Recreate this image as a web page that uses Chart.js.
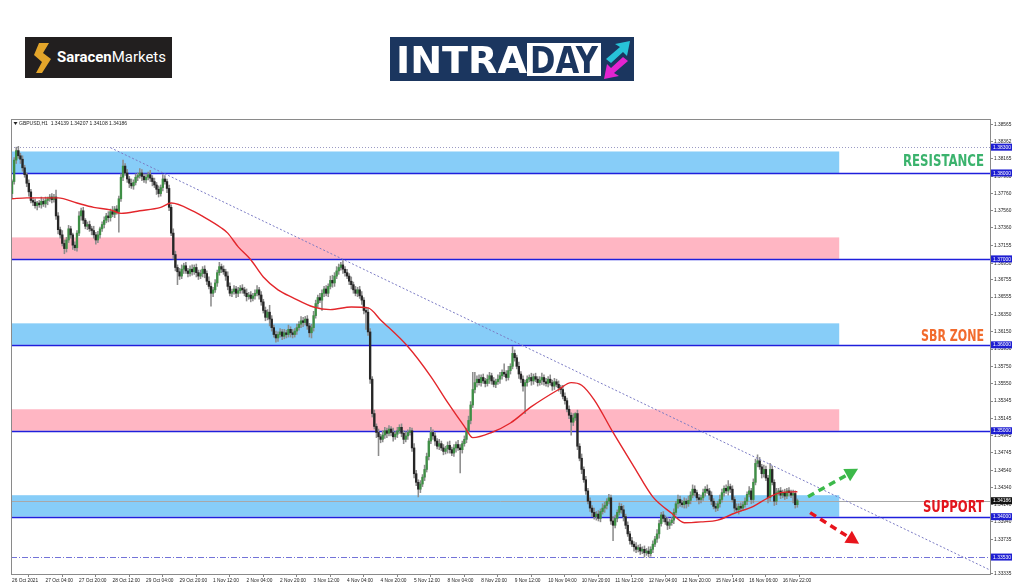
<!DOCTYPE html>
<html><head><meta charset="utf-8">
<script src="https://cdn.jsdelivr.net/npm/chart.js@4/dist/chart.umd.min.js"></script>
<style>
html,body{margin:0;padding:0;background:#fff;width:1024px;height:587px;overflow:hidden;}
#c{position:absolute;left:0;top:0;}
.logo1{position:absolute;left:25px;top:37px;width:147px;height:41px;background:#221f1f;}
.logo1 svg{position:absolute;left:9px;top:6px;}
.logo1 .t{position:absolute;left:32px;top:11px;font-family:Roboto,'Liberation Sans',sans-serif;font-size:14px;line-height:18px;color:#fff;white-space:nowrap;transform-origin:0 50%}
.logo1 .t b{font-weight:700}
.logo1 .t span{font-weight:400}
.logo2{position:absolute;left:390px;top:37px;width:244px;height:44px;background:#1b365f;}
.logo2 .intra{position:absolute;left:6px;top:5px;font-family:'DejaVu Sans Condensed','Liberation Sans',sans-serif;font-weight:700;font-size:38px;line-height:36px;color:#fff;white-space:nowrap;transform-origin:0 50%}
.logo2 .day{position:absolute;left:137px;top:6px;width:74px;height:33px;background:#fff;overflow:hidden}
.logo2 .day span{position:absolute;left:3px;top:-1px;font-family:'DejaVu Sans Condensed','Liberation Sans',sans-serif;font-weight:700;font-size:38px;line-height:36px;color:#1b365f;white-space:nowrap;transform-origin:0 50%}
.logo2 svg{position:absolute;left:210px;top:2px;}
</style></head>
<body>
<canvas id="c" width="1024" height="587"></canvas>
<div class="logo1">
  <svg width="18" height="30" viewBox="0 0 18 30"><path d="M5 0 L15 0 L9 10 L17 16 L8 30 L2 30 L8 19 L0 12 Z" fill="#e3a52a"/></svg>
  <div class="t" data-w="109"><b>Saracen</b><span>Markets</span></div>
</div>
<div class="logo2">
  <div class="intra" data-w="131">INTRA</div>
  <div class="day"><span data-w="68">DAY</span></div>
  <svg width="34" height="42" viewBox="0 0 34 42">
    <path d="M6 20 L20 8 L15 5 L30 2 L27 17 L23 13 L11 24 Z" fill="#27c3d8"/>
    <path d="M28 22 L14 34 L19 37 L4 40 L7 25 L11 29 L23 18 Z" fill="#e324d0"/>
  </svg>
</div>
<script>
// fit logo words to their widths
document.querySelectorAll('[data-w]').forEach(el => {
  el.style.display = 'inline-block';
  const w = el.getBoundingClientRect().width;
  if (w > 0) el.style.transform = 'scaleX(' + (parseFloat(el.dataset.w) / w) + ')';
});

// ---------------- data ----------------
const firstOpen = 1.3776;
const closes = [
1.3790,1.3815,1.3826,1.3820,1.3816,1.3806,1.3798,1.3788,1.3778,1.3768,
1.3766,1.3762,1.3765,1.3763,1.3767,1.3764,1.3768,1.3770,1.3772,1.3769,
1.3772,1.3750,1.3734,1.3728,1.3718,1.3712,1.3722,1.3735,1.3728,1.3716,
1.3713,1.3730,1.3750,1.3756,1.3745,1.3738,1.3740,1.3735,1.3733,1.3728,
1.3722,1.3728,1.3735,1.3740,1.3745,1.3750,1.3748,1.3755,1.3752,1.3758,
1.3755,1.3770,1.3795,1.3808,1.3800,1.3793,1.3788,1.3785,1.3789,1.3795,
1.3797,1.3800,1.3796,1.3792,1.3795,1.3798,1.3794,1.3790,1.3786,1.3781,
1.3776,1.3783,1.3793,1.3790,1.3782,1.3760,1.3730,1.3705,1.3690,1.3685,
1.3680,1.3688,1.3692,1.3686,1.3683,1.3688,1.3685,1.3690,1.3684,1.3680,
1.3683,1.3688,1.3683,1.3674,1.3668,1.3660,1.3664,1.3672,1.3684,1.3691,
1.3688,1.3685,1.3680,1.3668,1.3660,1.3662,1.3665,1.3660,1.3663,1.3666,
1.3664,1.3660,1.3656,1.3658,1.3654,1.3657,1.3660,1.3664,1.3658,1.3650,
1.3640,1.3632,1.3638,1.3630,1.3620,1.3612,1.3608,1.3612,1.3615,1.3610,
1.3614,1.3612,1.3618,1.3614,1.3612,1.3616,1.3620,1.3624,1.3628,1.3626,
1.3630,1.3622,1.3614,1.3620,1.3634,1.3648,1.3655,1.3652,1.3660,1.3665,
1.3660,1.3668,1.3675,1.3672,1.3680,1.3686,1.3690,1.3693,1.3688,1.3684,
1.3680,1.3674,1.3670,1.3664,1.3660,1.3664,1.3657,1.3652,1.3640,1.3638,
1.3615,1.3560,1.3520,1.3505,1.3498,1.3493,1.3490,1.3495,1.3500,1.3497,
1.3502,1.3498,1.3493,1.3496,1.3500,1.3504,1.3497,1.3490,1.3494,1.3498,
1.3500,1.3480,1.3450,1.3440,1.3432,1.3438,1.3446,1.3455,1.3470,1.3488,
1.3498,1.3494,1.3488,1.3482,1.3485,1.3480,1.3476,1.3479,1.3483,1.3478,
1.3474,1.3480,1.3484,1.3480,1.3478,1.3485,1.3490,1.3500,1.3512,1.3530,
1.3548,1.3556,1.3560,1.3556,1.3562,1.3558,1.3555,1.3560,1.3564,1.3558,
1.3554,1.3557,1.3560,1.3564,1.3568,1.3566,1.3562,1.3570,1.3575,1.3590,
1.3585,1.3575,1.3566,1.3560,1.3552,1.3556,1.3560,1.3562,1.3558,1.3563,
1.3560,1.3556,1.3559,1.3562,1.3557,1.3555,1.3560,1.3556,1.3552,1.3557,
1.3554,1.3550,1.3548,1.3540,1.3535,1.3525,1.3518,1.3510,1.3515,1.3520,
1.3482,1.3468,1.3455,1.3443,1.3430,1.3418,1.3410,1.3405,1.3400,1.3403,
1.3398,1.3406,1.3410,1.3413,1.3418,1.3422,1.3395,1.3390,1.3398,1.3405,
1.3412,1.3408,1.3400,1.3390,1.3380,1.3372,1.3368,1.3365,1.3362,1.3364,
1.3360,1.3362,1.3358,1.3360,1.3357,1.3362,1.3368,1.3374,1.3380,1.3392,
1.3402,1.3398,1.3394,1.3390,1.3393,1.3396,1.3405,1.3415,1.3420,1.3416,
1.3414,1.3418,1.3415,1.3419,1.3425,1.3432,1.3428,1.3422,1.3420,1.3422,
1.3428,1.3432,1.3430,1.3425,1.3418,1.3412,1.3410,1.3415,1.3420,1.3428,
1.3433,1.3430,1.3435,1.3432,1.3420,1.3410,1.3408,1.3412,1.3410,1.3414,
1.3418,1.3426,1.3430,1.3420,1.3440,1.3462,1.3465,1.3458,1.3450,1.3455,
1.3445,1.3422,1.3455,1.3440,1.3418,1.3428,1.3430,1.3425,1.3428,1.3424,
1.3430,1.3428,1.3425,1.3427,1.3414,1.34186];
const upperWickPips = [
2,3,4,5,3,4,3,2,4,3, 3,4,2,3,5,3,4,2,3,4, 3,8,4,3,5,4,3,4,3,2, 4,3,5,3,4,2,3,4,3,5,
3,4,2,3,4,3,5,3,6,3, 4,3,4,7,3,4,3,5,3,4, 3,5,4,3,4,3,5,3,4,3, 4,3,5,4,3,4,3,5,4,3,
4,5,3,4,3,4,5,3,4,3, 4,3,4,3,5,4,3,4,3,5, 3,4,3,5,4,3,4,3,4,3, 4,3,5,3,4,3,4,5,3,4,
3,4,3,8,4,3,4,3,4,3, 4,3,5,3,4,3,4,3,5,4, 3,4,3,4,5,4,3,5,4,3, 4,3,5,6,4,5,4,3,5,3,
4,3,5,3,4,3,4,5,3,4, 5,4,3,4,3,4,3,5,4,3, 4,3,5,3,4,3,4,3,5,3, 4,3,5,4,3,4,3,5,4,3,
6,3,4,3,5,3,4,3,4,5, 3,4,3,5,4,3,4,3,5,4, 20,12,4,5,3,4,3,5,4,3, 4,3,5,4,3,10,4,5,3,8,
4,3,5,3,4,3,4,3,5,3, 4,3,4,5,3,4,3,5,3,4, 3,4,3,5,4,3,4,3,5,1, 4,3,5,3,4,3,4,3,5,3,
4,3,5,4,3,4,3,5,4,3, 4,3,5,3,4,3,4,3,5,3, 4,3,4,3,5,3,4,3,5,4, 3,4,3,5,4,3,4,3,5,4,
3,4,3,5,4,5,4,3,4,3, 4,3,5,3,4,3,4,3,5,4, 3,4,7,3,4,3,5,3,4,3, 4,3,5,3,4,5,7,4,3,5,
4,3,7,4,3,5,3,4,3,4, 3,4,3,4,3,2];
const lowerWickPips = [
6,3,4,3,5,4,3,4,5,3, 4,3,5,3,4,3,4,5,3,4, 3,4,5,4,3,6,4,3,4,5, 3,4,3,5,4,3,4,3,5,4,
5,3,4,3,4,3,5,4,3,4, 3,24,3,4,3,4,5,3,4,3, 4,3,5,3,4,3,4,5,3,6, 4,3,4,3,5,4,3,5,4,15,
4,3,5,3,4,3,4,3,5,4, 3,4,5,4,3,15,4,3,4,3, 4,3,5,4,3,4,3,5,4,3, 4,3,5,3,4,3,4,3,5,4,
3,4,3,8,4,3,5,4,3,4, 3,4,3,5,4,3,4,3,4,5, 3,4,5,6,4,3,4,3,12,4, 3,4,3,5,4,3,4,3,5,4,
3,4,5,4,3,4,3,5,4,20, 4,5,4,3,6,22,4,3,4,5, 3,4,5,3,4,3,4,5,3,4, 3,4,5,4,9,4,3,4,3,4,
3,4,5,3,4,3,4,3,5,4, 3,4,5,3,27,4,3,4,3,4, 3,4,5,3,4,3,4,3,5,4, 3,4,3,5,4,3,4,3,4,3,
4,3,5,4,6,32,4,3,5,4, 3,4,3,5,4,3,4,3,5,4, 3,4,5,3,4,3,4,15,4,3, 4,3,5,3,4,3,4,5,3,4,
3,4,3,5,4,3,4,18,3,4, 3,4,5,4,3,4,3,5,4,3, 4,3,5,3,4,3,4,3,4,5, 3,4,3,5,4,3,4,3,5,4,
3,4,5,3,4,3,4,3,5,4, 3,4,3,5,4,3,4,3,4,3, 4,3,5,4,3,4,3,5,4,3, 3,4,3,5,4,3,4,3,5,4,
3,6,4,3,5,4,3,4,3,4, 3,4,3,9,4,3];
const maBars = [0,7,22,31,39,47,52,61,71,76,87,90,100,103,108,114,120,127,134,144,152,162,170,176,189,200,208,216,220,229,238,248,261,267,272,278,287,297,306,315,321,329,337,345,354,361,367,375];
const maValues = [1.3770,1.3771,1.3771,1.3765,1.3760,1.3757,1.3753,1.3756,1.3760,1.3765,1.3755,1.3751,1.3736,1.3730,1.3714,1.3699,1.3679,1.3664,1.3655,1.3644,1.3641,1.3644,1.3643,1.3629,1.3598,1.3563,1.3533,1.3505,1.3492,1.3498,1.3509,1.3528,1.3548,1.3556,1.3553,1.3536,1.3498,1.3458,1.3423,1.3404,1.3393,1.3394,1.3396,1.3404,1.3412,1.3422,1.3428,1.3429];
const trendBars = [47, 467.3];
const trendValues = [1.38294, 1.33376];
const levelValues = [1.38, 1.37, 1.36, 1.35, 1.34];
const zoneLows  = [1.3800, 1.3700, 1.3600, 1.3500, 1.3400];
const zoneHighs = [1.3825, 1.3725, 1.3625, 1.3525, 1.3425];
const zoneKinds = ['blue','pink','blue','pink','blue'];
const zoneEndBar = 395;
const dottedLevel = 1.38300;
const lowLevel = 1.33530;
const lastPrice = 1.34186;
const zoneTitles = ['RESISTANCE','SBR ZONE','SUPPORT'];
const zoneTitleValues = [1.38140, 1.36105, 1.34110];
const axisMarkValues = [1.38300,1.38000,1.37000,1.36000,1.35000,1.34000,1.33530,1.34186];
const arrowUpBars = [380.1, 404.0];   const arrowUpValues = [1.34233, 1.34558];
const arrowDownBars = [381.1, 404.5]; const arrowDownValues = [1.34047, 1.33686];
const yTicks = [1.38565,1.38362,1.38165,1.37960,1.37760,1.37560,1.37360,1.37155,1.36950,1.36755,1.36555,1.36350,1.36150,1.35950,1.35750,1.35550,1.35345,1.35145,1.34945,1.34745,1.34540,1.34340,1.34140,1.33940,1.33735,1.33535,1.33335];
const xTickBars = [0,16,32,48,64,80,96,112,128,144,160,176,192,208,224,240,256,272,288,304,320,336,352,368];
const xLabels = ["26 Oct 2021","27 Oct 04:00","27 Oct 20:00","28 Oct 12:00","29 Oct 04:00","29 Oct 20:00","1 Nov 12:00","2 Nov 04:00","2 Nov 20:00","3 Nov 12:00","4 Nov 04:00","4 Nov 20:00","5 Nov 12:00","8 Nov 04:00","8 Nov 20:00","9 Nov 12:00","10 Nov 04:00","10 Nov 20:00","11 Nov 12:00","12 Nov 04:00","12 Nov 20:00","15 Nov 14:00","16 Nov 06:00","16 Nov 22:00"];
const headerText = "GBPUSD,H1  1.34139 1.34207 1.34108 1.34186";

// ---------------- derived candle data ----------------
const opens = closes.map((c, i) => i === 0 ? firstOpen : closes[i - 1]);
const highs = closes.map((c, i) => Math.max(opens[i], c) + upperWickPips[i] * 0.0001);
const lows  = closes.map((c, i) => Math.min(opens[i], c) - lowerWickPips[i] * 0.0001);

const COLORS = {
  up: '#3f8f46', down: '#262626', wick: '#8c8c8c', ma: '#e3262b',
  trend: '#7b7bc4', level: '#1f1fdc', blue: '#87cdf8', pink: '#ffb6c3',
  titles: ['#3bb36d', '#f26b2d', '#e2151d'], arrowUp: '#3cb94a', arrowDown: '#e8141c'
};
const NARROW = "'Liberation Sans Narrow','DejaVu Sans Condensed','Liberation Sans',sans-serif";
const SMALL = "'Liberation Sans',Arial,sans-serif";

function drawArrow(ctx, x1, y1, x2, y2, color) {
  const ang = Math.atan2(y2 - y1, x2 - x1);
  const head = 13;
  const bx = x2 - head * Math.cos(ang), by = y2 - head * Math.sin(ang);
  ctx.save();
  ctx.strokeStyle = color; ctx.lineWidth = 3.5; ctx.setLineDash([7, 5]);
  ctx.beginPath(); ctx.moveTo(x1, y1); ctx.lineTo(bx, by); ctx.stroke();
  ctx.setLineDash([]);
  ctx.fillStyle = color;
  const w = 7;
  ctx.beginPath();
  ctx.moveTo(x2, y2);
  ctx.lineTo(bx + w * Math.sin(ang), by - w * Math.cos(ang));
  ctx.lineTo(bx - w * Math.sin(ang), by + w * Math.cos(ang));
  ctx.closePath(); ctx.fill();
  ctx.restore();
}

const overlay = {
  id: 'overlay',
  beforeDatasetsDraw(chart) {
    const {ctx, chartArea: a, scales: {x, y}} = chart;
    ctx.save();
    ctx.beginPath(); ctx.rect(a.left, a.top, a.right - a.left, a.bottom - a.top); ctx.clip();
    const x0 = a.left, x1 = x.getPixelForValue(zoneEndBar);
    zoneLows.forEach((lo, i) => {
      const yt = y.getPixelForValue(zoneHighs[i]), yb = y.getPixelForValue(lo);
      ctx.fillStyle = COLORS[zoneKinds[i]];
      ctx.fillRect(x0, yt, x1 - x0, yb - yt);
    });
    ctx.strokeStyle = COLORS.level; ctx.lineWidth = 1.4;
    levelValues.forEach(v => {
      const yy = Math.round(y.getPixelForValue(v)) + 0.5;
      ctx.beginPath(); ctx.moveTo(a.left, yy); ctx.lineTo(a.right, yy); ctx.stroke();
    });
    ctx.strokeStyle = '#9a9ac4'; ctx.lineWidth = 1; ctx.setLineDash([1, 2]);
    let yy = Math.round(y.getPixelForValue(dottedLevel)) + 0.5;
    ctx.beginPath(); ctx.moveTo(a.left, yy); ctx.lineTo(a.right, yy); ctx.stroke();
    ctx.strokeStyle = '#7373d8'; ctx.setLineDash([6, 2, 1, 2]);
    yy = Math.round(y.getPixelForValue(lowLevel)) + 0.5;
    ctx.beginPath(); ctx.moveTo(a.left, yy); ctx.lineTo(a.right, yy); ctx.stroke();
    ctx.setLineDash([]); ctx.strokeStyle = '#a8a8a8';
    yy = Math.round(y.getPixelForValue(lastPrice)) + 0.5;
    ctx.beginPath(); ctx.moveTo(a.left, yy); ctx.lineTo(a.right, yy); ctx.stroke();
    ctx.restore();
  },
  afterDatasetsDraw(chart) {
    const {ctx, chartArea: a, scales: {x, y}} = chart;
    drawArrow(ctx, x.getPixelForValue(arrowUpBars[0]), y.getPixelForValue(arrowUpValues[0]),
      x.getPixelForValue(arrowUpBars[1]), y.getPixelForValue(arrowUpValues[1]), COLORS.arrowUp);
    drawArrow(ctx, x.getPixelForValue(arrowDownBars[0]), y.getPixelForValue(arrowDownValues[0]),
      x.getPixelForValue(arrowDownBars[1]), y.getPixelForValue(arrowDownValues[1]), COLORS.arrowDown);
    ctx.save();
    ctx.textAlign = 'right'; ctx.textBaseline = 'middle';
    const widths = [81, 63, 61];
    zoneTitles.forEach((t, i) => {
      ctx.font = 'bold 15px ' + NARROW;
      ctx.fillStyle = COLORS.titles[i];
      ctx.fillText(t, a.right - 6, y.getPixelForValue(zoneTitleValues[i]) + 1, widths[i]);
    });
    ctx.font = '5px ' + SMALL; ctx.fillStyle = '#222'; ctx.textAlign = 'left';
    ctx.fillText(headerText, a.left + 8, a.top + 4.5);
    ctx.beginPath(); ctx.moveTo(a.left + 2.5, a.top + 3); ctx.lineTo(a.left + 6.5, a.top + 3); ctx.lineTo(a.left + 4.5, a.top + 6); ctx.closePath(); ctx.fill();
    ctx.restore();
  },
  afterDraw(chart) {
    const {ctx, chartArea: a, scales: {y}} = chart;
    ctx.save();
    ctx.strokeStyle = '#8a8a8a'; ctx.lineWidth = 1;
    ctx.strokeRect(Math.round(a.left) + 0.5, Math.round(a.top) + 0.5, Math.round(a.right - a.left), Math.round(a.bottom - a.top));
    ctx.font = '5px ' + SMALL; ctx.textBaseline = 'middle'; ctx.textAlign = 'left';
    axisMarkValues.forEach(v => {
      const yy = y.getPixelForValue(v);
      ctx.fillStyle = v === lastPrice ? '#111111' : '#1e1ed2';
      ctx.fillRect(a.right + 1, yy - 3.5, 21, 7);
      ctx.fillStyle = '#ffffff';
      ctx.fillText(v.toFixed(5), a.right + 3, yy + 0.3);
    });
    ctx.restore();
  }
};

const wickData = closes.map((c, i) => ({x: i, y: [lows[i], highs[i]]}));
const bodyData = closes.map((c, i) => ({x: i, y: [opens[i], c]}));
const bodyColors = closes.map((c, i) => c >= opens[i] ? COLORS.up : COLORS.down);

new Chart(document.getElementById('c'), {
  type: 'bar',
  data: {
    datasets: [
      {type: 'line', data: trendBars.map((b, i) => ({x: b, y: trendValues[i]})), borderColor: COLORS.trend,
       borderWidth: 1, borderDash: [2, 2], pointRadius: 0, order: 0},
      {type: 'line', data: maBars.map((b, i) => ({x: b, y: maValues[i]})), borderColor: COLORS.ma,
       borderWidth: 1.4, pointRadius: 0, cubicInterpolationMode: 'monotone', order: 1},
      {type: 'bar', data: bodyData, backgroundColor: bodyColors, barThickness: 1.7, grouped: false,
       minBarLength: 1, borderWidth: 0, order: 2},
      {type: 'bar', data: wickData, backgroundColor: COLORS.wick, barThickness: 0.9, grouped: false,
       borderWidth: 0, order: 3}
    ]
  },
  options: {
    responsive: false, animation: false, devicePixelRatio: 1,
    layout: {padding: {left: 11, top: 119, right: 0, bottom: 0}},
    plugins: {legend: {display: false}, tooltip: {enabled: false}},
    scales: {
      x: {
        type: 'linear', min: -0.5, max: 467, offset: false,
        afterFit(s) { s.height = 13; },
        afterBuildTicks(s) { s.ticks = xTickBars.map(v => ({value: v})); },
        grid: {drawOnChartArea: false, tickLength: 3, color: '#888'},
        border: {color: '#8a8a8a'},
        ticks: {autoSkip: false, maxRotation: 0, align: 'start', padding: 1, color: '#222',
          font: {family: SMALL, size: 4.8}, callback: (v, i) => xLabels[i]}
      },
      y: {
        type: 'linear', position: 'right', min: 1.33333, max: 1.38628,
        afterFit(s) { s.width = 34; },
        afterBuildTicks(s) { s.ticks = yTicks.map(v => ({value: v})); },
        grid: {drawOnChartArea: false, tickLength: 3, color: '#888'},
        border: {color: '#8a8a8a'},
        ticks: {padding: 1, color: '#222', font: {family: SMALL, size: 4.8},
          callback: v => v.toFixed(5)}
      }
    }
  },
  plugins: [overlay]
});
</script>
</body></html>
